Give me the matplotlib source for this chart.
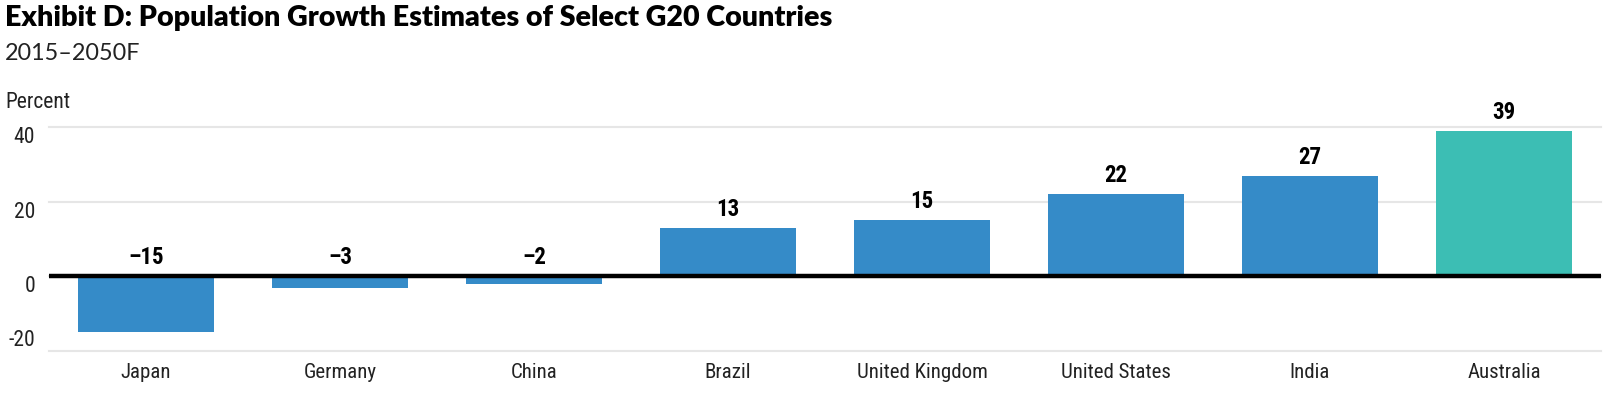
import matplotlib
matplotlib.use("Agg")
import matplotlib.pyplot as plt
from matplotlib import font_manager

# Datos del grafico.

paises = ["Japan", "Germany", "China", "Brazil", "United Kingdom",
          "United States", "India", "Australia"]

crecimiento = [-15, -3, -2, 13, 15, 22, 27, 39]

etiquetas = ["\u201315", "\u20133", "\u20132", "13", "15", "22", "27", "39"]

y_ticks = [-20, 0, 20, 40]

azul = "#358BC8"
verde = "#3CBEB4"
colores = [azul] * 7 + [verde]

# Busca una fuente estrecha entre las instaladas.

nombres = {f.name for f in font_manager.fontManager.ttflist}
estrecha = "DejaVu Sans"
for n in ["Roboto Condensed", "Liberation Sans Narrow", "Open Sans Condensed",
          "DejaVu Sans Condensed"]:
    if n in nombres:
        estrecha = n
        break

fam = [estrecha, "DejaVu Sans"]

fig = plt.figure(figsize=(16.11, 3.95), dpi=100)

ax = fig.add_axes([49 / 1611, 1 - 351 / 395, 1552 / 1611, 224 / 395])

x = list(range(len(paises)))

ax.bar(x, crecimiento, width=0.70, color=colores, zorder=2)

ax.set_xlim(-0.5, len(paises) - 0.5)
ax.set_ylim(-20, 40)

# Lineas de fondo.

for t in y_ticks:
    ax.axhline(t, color="#E6E6E6", linewidth=1.5, zorder=1, clip_on=False)

ax.axhline(0, color="black", linewidth=3.2, zorder=3)

# Etiquetas de valores.

for xi, v, et in zip(x, crecimiento, etiquetas):
    y = max(v, 0)
    ax.annotate(et, (xi, y), xytext=(0, 5), textcoords="offset points",
                ha="center", va="bottom", fontsize=16.5, fontweight="bold",
                family=fam, stretch="condensed",
                color="black", clip_on=False)

ax.set_yticks(y_ticks)
ax.set_yticklabels([str(t) for t in y_ticks], family=fam,
                   stretch="condensed", fontsize=15.5, color="#222222")
for lab in ax.get_yticklabels():
    if lab.get_text() == "-20":
        lab.set_va("bottom")
    else:
        lab.set_va("top")

ax.set_xticks(x)
ax.set_xticklabels(paises, family=fam, stretch="condensed",
                   fontsize=15, color="#222222")

ax.tick_params(axis="y", length=0, pad=10)
ax.tick_params(axis="x", length=0, pad=9)

for s in ax.spines.values():
    s.set_visible(False)

# Titulos.

fig.text(5 / 1611, 1 - 5 / 395, "Exhibit D: Population Growth Estimates of Select G20 Countries",
         family=["Lato", "DejaVu Sans"], fontweight="heavy", fontsize=20.6,
         va="top", ha="left", color="black")

fig.text(5 / 1611, 1 - 43 / 395, "2015\u20132050F",
         family=["Lato", "DejaVu Sans"], fontsize=16.8,
         va="top", ha="left", color="#222222")

fig.text(5 / 1611, 1 - 92 / 395, "Percent",
         family=fam, stretch="condensed", fontsize=15.5,
         va="top", ha="left", color="#222222")

fig.savefig("out.png", dpi=100)
